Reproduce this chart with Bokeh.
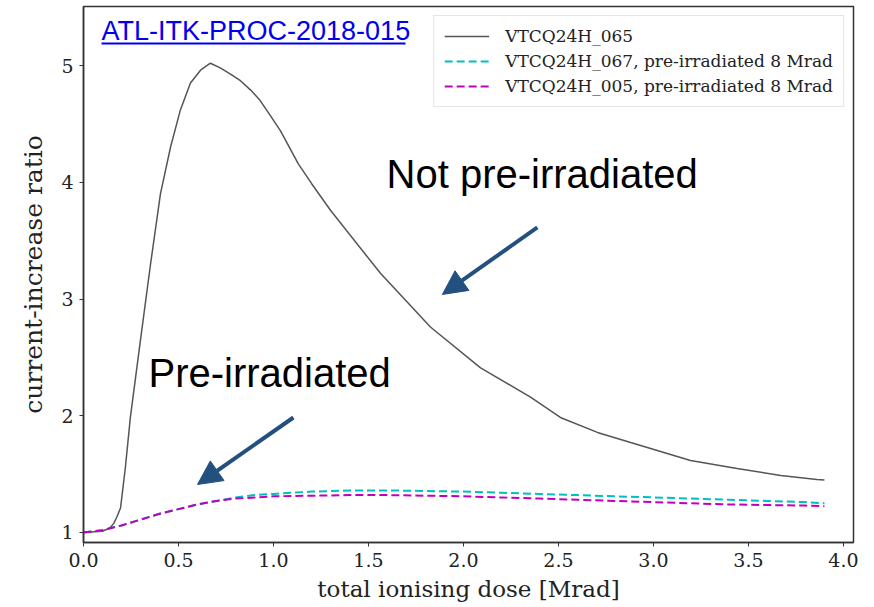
from bokeh.plotting import figure
from bokeh.models import Range1d, Label, Arrow, NormalHead, Legend, LegendItem, FixedTicker, NumeralTickFormatter
from bokeh.embed import file_html
from bokeh.resources import INLINE

# --- data ---
dose_065 = [0.0, 0.10, 0.14, 0.16, 0.175, 0.195, 0.22, 0.247, 0.30, 0.353, 0.405, 0.458, 0.51,
            0.563, 0.616, 0.668, 0.72, 0.78, 0.826, 0.88, 0.93, 0.98, 1.037, 1.13, 1.20, 1.30,
            1.563, 1.826, 2.09, 2.353, 2.51, 2.705, 2.88, 3.195, 3.44, 3.67, 3.86, 3.9]
ratio_065 = [1.0, 1.01, 1.04, 1.08, 1.13, 1.21, 1.55, 1.99, 2.65, 3.30, 3.90, 4.30, 4.62,
             4.85, 4.96, 5.02, 4.98, 4.92, 4.87, 4.79, 4.70, 4.58, 4.44, 4.16, 3.99, 3.76,
             3.22, 2.76, 2.41, 2.16, 1.985, 1.857, 1.77, 1.617, 1.548, 1.488, 1.454, 1.45]

dose_pre = [0.0, 0.1, 0.2, 0.3, 0.4, 0.5, 0.6, 0.7, 0.8, 0.9, 1.0, 1.2, 1.4, 1.6, 1.8, 2.0,
            2.2, 2.4, 2.6, 2.8, 3.0, 3.2, 3.4, 3.6, 3.8, 3.9]
ratio_067 = [1.0, 1.02, 1.06, 1.11, 1.16, 1.20, 1.24, 1.27, 1.30, 1.32, 1.33, 1.35, 1.36, 1.36,
             1.355, 1.35, 1.34, 1.33, 1.32, 1.31, 1.30, 1.29, 1.28, 1.27, 1.26, 1.25]
ratio_005 = [1.0, 1.02, 1.06, 1.11, 1.16, 1.20, 1.24, 1.27, 1.29, 1.30, 1.31, 1.315, 1.32, 1.32,
             1.315, 1.31, 1.30, 1.29, 1.28, 1.27, 1.26, 1.25, 1.24, 1.235, 1.23, 1.225]

labels = ["VTCQ24H_065",
          "VTCQ24H_067, pre-irradiated 8 Mrad",
          "VTCQ24H_005, pre-irradiated 8 Mrad"]
x_ticks = [0.0, 0.5, 1.0, 1.5, 2.0, 2.5, 3.0, 3.5, 4.0]
y_ticks = [1, 2, 3, 4, 5]

SERIF = "DejaVu Serif"
SANS = "Liberation Sans"

p = figure(width=866, height=606, output_backend="svg", toolbar_location=None,
           x_range=Range1d(0.0, 4.053), y_range=Range1d(0.914, 5.506),
           min_border_left=83, min_border_right=13, min_border_top=6, min_border_bottom=64)

p.grid.visible = False
p.outline_line_color = "#333333"
p.outline_line_width = 1.5
p.background_fill_color = "white"
p.border_fill_color = "white"

for ax in (p.xaxis[0], p.yaxis[0]):
    ax.axis_line_color = "#333333"
    ax.axis_line_width = 1.5
    ax.major_tick_in = 0
    ax.major_tick_out = 4
    ax.major_tick_line_color = "#333333"
    ax.minor_tick_in = 0
    ax.minor_tick_out = 0
    ax.major_label_text_font = SERIF
    ax.major_label_text_font_size = "19px"
    ax.major_label_text_color = "#222222"
    ax.axis_label_text_font = SERIF
    ax.axis_label_text_font_style = "normal"
    ax.axis_label_text_color = "#222222"

p.xaxis.axis_label_text_font_size = "23px"
p.yaxis.axis_label_text_font_size = "25px"
p.xaxis.ticker = FixedTicker(ticks=x_ticks)
p.xaxis.formatter = NumeralTickFormatter(format="0.0")
p.yaxis.ticker = FixedTicker(ticks=y_ticks)
p.xaxis.axis_label = "total ionising dose [Mrad]"
p.yaxis.axis_label = "current-increase ratio"
p.xaxis.major_label_standoff = 6
p.xaxis.axis_label_standoff = 6
p.yaxis.major_label_standoff = 6
p.yaxis.axis_label_standoff = 10

r1 = p.line(dose_065, ratio_065, line_color="#555555", line_width=1.5)
r2 = p.line(dose_pre, ratio_067, line_color="#00bfbf", line_width=2, line_dash="8 4")
r3 = p.line(dose_pre, ratio_005, line_color="#bf00bf", line_width=2, line_dash="8 4")

legend = Legend(items=[LegendItem(label=labels[0], renderers=[r1]),
                       LegendItem(label=labels[1], renderers=[r2]),
                       LegendItem(label=labels[2], renderers=[r3])],
                location="top_right", margin=9, padding=10, spacing=5,
                glyph_width=45, glyph_height=20, label_height=20, label_standoff=16,
                label_text_font=SERIF, label_text_font_size="17px", label_text_color="#222222",
                border_line_color="#cccccc", border_line_width=1,
                background_fill_color="white", background_fill_alpha=0.9)
p.add_layout(legend)

# annotations (text placed by its vertical middle)
ARROW_COLOR = "#23507f"
LINK_COLOR = "#0000ee"
p.add_layout(Label(x=0.095, y=5.30, text="ATL-ITK-PROC-2018-015", text_font=SANS,
                   text_font_size="27px", text_color=LINK_COLOR, text_baseline="middle"))
p.segment(x0=[0.095], y0=[5.19], x1=[1.695], y1=[5.19], line_color=LINK_COLOR, line_width=2)

p.add_layout(Label(x=1.595, y=4.067, text="Not pre-irradiated", text_font=SANS,
                   text_font_size="40px", text_color="black", text_baseline="middle"))
p.add_layout(Label(x=0.342, y=2.362, text="Pre-irradiated", text_font=SANS,
                   text_font_size="40px", text_color="black", text_baseline="middle"))

for xs, ys, xe, ye in [(2.389, 3.614, 1.889, 3.039), (1.105, 1.985, 0.60, 1.411)]:
    p.add_layout(Arrow(x_start=xs, y_start=ys, x_end=xe, y_end=ye,
                       line_color=ARROW_COLOR, line_width=4,
                       end=NormalHead(size=24, fill_color=ARROW_COLOR, line_color=ARROW_COLOR)))

open("out.html", "w").write(file_html(p, INLINE))
